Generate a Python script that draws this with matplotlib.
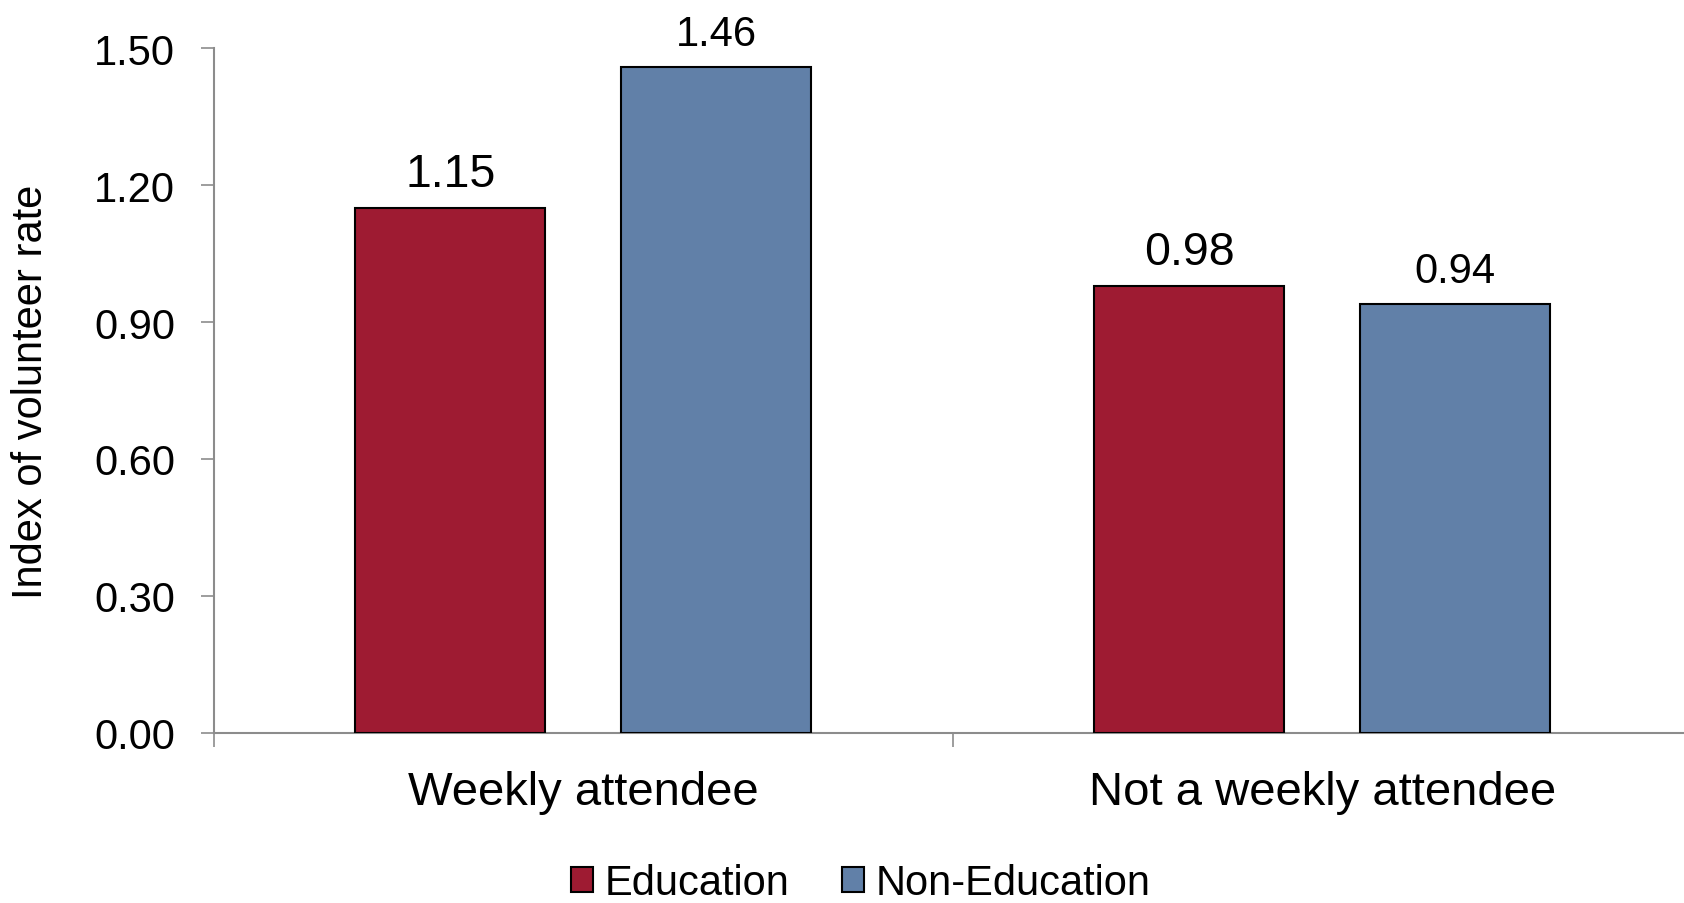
import numpy as np
import matplotlib.pyplot as plt

plt.rcParams['font.family'] = ['Liberation Sans', 'DejaVu Sans']

# Data
categories = ['Weekly attendee', 'Not a weekly attendee']
series_names = ['Education', 'Non-Education']
education = [1.15, 0.98]
non_education = [1.46, 0.94]
y_ticks = [0.00, 0.30, 0.60, 0.90, 1.20, 1.50]

RED = '#9E1B32'
BLUE = '#6180A8'
AXIS_GREY = '#8C8C8C'

fig = plt.figure(figsize=(16.84, 9.04), dpi=100)
# right edge of the plot area runs just past the figure edge, as in the original
ax = fig.add_axes([0.127, 0.1886, 0.8777, 0.7568])

x = np.arange(len(categories))
offset = 0.18
width = 0.257

bars_edu = ax.bar(x - offset, education, width, color=RED, edgecolor='black',
                  linewidth=1.5, label=series_names[0], zorder=3)
bars_non = ax.bar(x + offset, non_education, width, color=BLUE, edgecolor='black',
                  linewidth=1.5, label=series_names[1], zorder=3)

# value labels (education ones are a bit larger in the original)
for rect, v in zip(bars_edu, education):
    ax.annotate(f'{v:.2f}', (rect.get_x() + rect.get_width() / 2, v),
                xytext=(0, 15.5), textcoords='offset points',
                ha='center', va='baseline', fontsize=33.5)
for rect, v in zip(bars_non, non_education):
    ax.annotate(f'{v:.2f}', (rect.get_x() + rect.get_width() / 2, v),
                xytext=(0, 15.5), textcoords='offset points',
                ha='center', va='baseline', fontsize=30)

ax.set_xlim(-0.5, 1.5)
ax.set_ylim(0, 1.5)
ax.set_yticks(y_ticks)
ax.set_yticklabels([f'{t:.2f}' for t in y_ticks], fontsize=30)
ax.tick_params(axis='y', length=9.4, width=1.2, color=AXIS_GREY, pad=18.5)

# category labels on major ticks, boundary marks on minor ticks
ax.set_xticks(x)
ax.set_xticklabels(categories, fontsize=34)
ax.tick_params(axis='x', which='major', length=0, pad=27)
ax.set_xticks([-0.5, 0.5, 1.5], minor=True)
ax.tick_params(axis='x', which='minor', length=10, width=1.2, color=AXIS_GREY)

for side in ['top', 'right']:
    ax.spines[side].set_visible(False)
for side in ['left', 'bottom']:
    ax.spines[side].set_color(AXIS_GREY)
    ax.spines[side].set_linewidth(1.5)

ax.set_ylabel('Index of volunteer rate', fontsize=30)
ax.yaxis.set_label_coords(-0.11, 0.5)

fig.legend(loc='center', bbox_to_anchor=(0.511, 0.022), ncol=2, frameon=False,
           fontsize=30, handlelength=0.54, handleheight=0.54,
           handletextpad=0.27, columnspacing=1.25, borderpad=0.2)

fig.savefig('out.png', dpi=100)
